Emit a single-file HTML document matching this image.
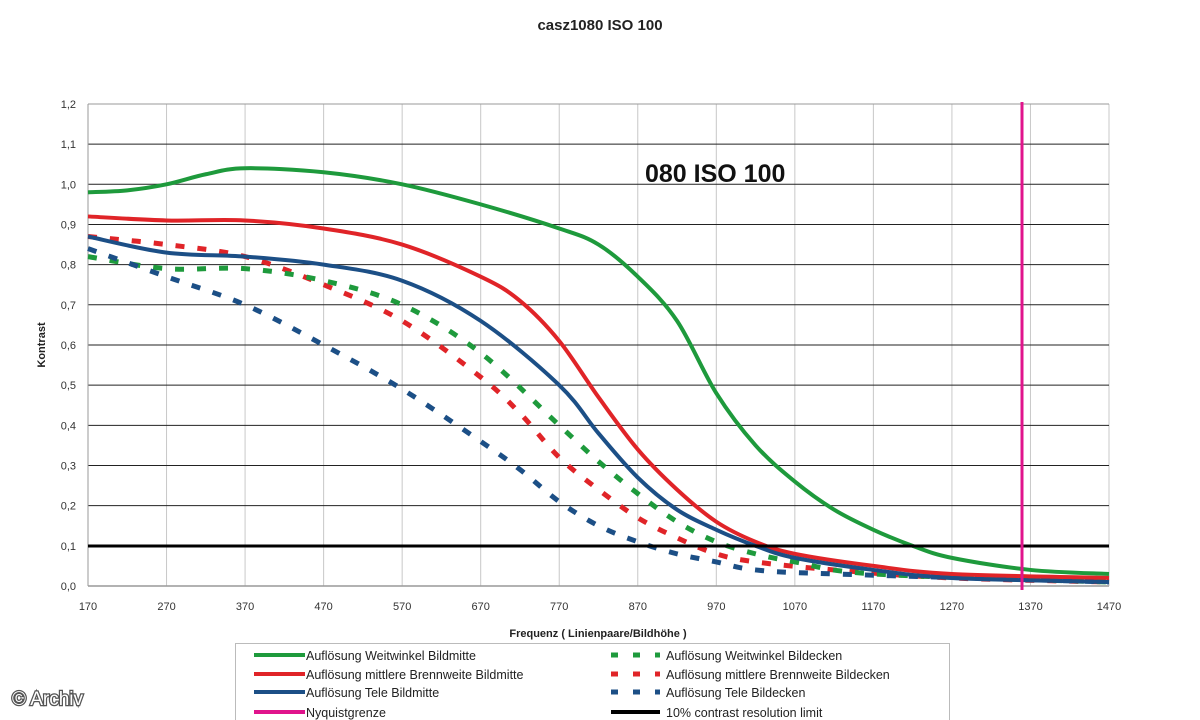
<!DOCTYPE html>
<html><head><meta charset="utf-8"><style>
html,body{margin:0;padding:0;background:#fff;width:1200px;height:720px;overflow:hidden}
svg{display:block;font-family:"Liberation Sans",Arial,sans-serif}
</style></head><body>
<svg id="s" width="1200" height="720" viewBox="0 0 1200 720">
<text x="600" y="30" text-anchor="middle" font-size="15" font-weight="bold" fill="#222">casz1080 ISO 100</text>
<g id="grid"></g>
<text x="645" y="182" font-size="25" font-weight="bold" fill="#111">080 ISO 100</text>
<g id="curves" fill="none" stroke-width="4" stroke-linejoin="round"></g>
<line x1="88" y1="546" x2="1109" y2="546" stroke="#000" stroke-width="3"/>
<line x1="1022" y1="102" x2="1022" y2="590" stroke="#e0148c" stroke-width="3"/>
<text x="598" y="637" text-anchor="middle" font-size="11" font-weight="bold" fill="#222">Frequenz ( Linienpaare/Bildhöhe )</text>
<text transform="translate(45,345) rotate(-90)" text-anchor="middle" font-size="11" font-weight="bold" fill="#222">Kontrast</text>
<rect x="235.5" y="643.5" width="714" height="90" fill="#fff" stroke="#bbb"/>
<g font-size="12.5" fill="#222">
<line x1="254" y1="655" x2="305" y2="655" stroke="#1e9a3c" stroke-width="4"/><text x="306" y="660">Auflösung Weitwinkel Bildmitte</text>
<line x1="254" y1="674" x2="305" y2="674" stroke="#e02428" stroke-width="4"/><text x="306" y="679">Auflösung mittlere Brennweite Bildmitte</text>
<line x1="254" y1="692" x2="305" y2="692" stroke="#1c4f86" stroke-width="4"/><text x="306" y="697">Auflösung Tele Bildmitte</text>
<line x1="254" y1="712" x2="305" y2="712" stroke="#e0148c" stroke-width="4"/><text x="306" y="717">Nyquistgrenze</text>
<line x1="611" y1="655" x2="660" y2="655" stroke="#1e9a3c" stroke-width="5" stroke-dasharray="7,15"/><text x="666" y="660">Auflösung Weitwinkel Bildecken</text>
<line x1="611" y1="674" x2="660" y2="674" stroke="#e02428" stroke-width="5" stroke-dasharray="7,15"/><text x="666" y="679">Auflösung mittlere Brennweite Bildecken</text>
<line x1="611" y1="692" x2="660" y2="692" stroke="#1c4f86" stroke-width="5" stroke-dasharray="7,15"/><text x="666" y="697">Auflösung Tele Bildecken</text>
<line x1="611" y1="712" x2="660" y2="712" stroke="#000" stroke-width="4"/><text x="666" y="717">10% contrast resolution limit</text>
</g>
<text x="12" y="705" font-size="19" fill="#fff" stroke="#555" stroke-width="2.5" paint-order="stroke">© Archiv</text>
</svg>
<script>
var NS="http://www.w3.org/2000/svg";
function X(f){return 88+(f-170)*1021/1300;}
function Y(v){return 586-v*401.7;}
function el(p,n,a){var e=document.createElementNS(NS,n);for(var k in a)e.setAttribute(k,a[k]);p.appendChild(e);return e;}
var g=document.getElementById('grid');
for(var f=170;f<=1470;f+=100){el(g,'line',{x1:X(f),y1:104,x2:X(f),y2:586,stroke:'#c8c8c8','stroke-width':1});
 var t=el(g,'text',{x:X(f),y:610,'text-anchor':'middle','font-size':11,fill:'#333'});t.textContent=f;}
for(var i=0;i<=12;i++){var y=Y(i/10);
 el(g,'line',{x1:88,y1:y,x2:1109,y2:y,stroke:(i==0||i==12)?'#999':'#222','stroke-width':i==0?1.5:1});
 var t=el(g,'text',{x:76,y:y+4,'text-anchor':'end','font-size':11,fill:'#333'});t.textContent=(i/10).toFixed(1).replace('.',',');}
el(g,'line',{x1:88,y1:104,x2:88,y2:586,stroke:'#999','stroke-width':1});
var data=[
['#e02428',0,[[170,.87],[270,.85],[370,.82],[470,.75],[570,.66],[670,.52],[720,.43],[770,.32],[820,.24],[870,.17],[920,.12],[970,.08],[1020,.06],[1120,.04],[1270,.02],[1470,.01]]],
['#1e9a3c',0,[[170,.82],[270,.79],[370,.79],[470,.76],[570,.70],[670,.58],[770,.40],[820,.31],[870,.23],[920,.16],[970,.11],[1020,.08],[1070,.06],[1170,.03],[1470,.01]]],
['#1c4f86',0,[[170,.84],[270,.77],[370,.70],[470,.60],[570,.49],[670,.36],[720,.29],[770,.21],[820,.15],[870,.11],[920,.08],[970,.06],[1020,.04],[1120,.03],[1470,.01]]],
['#1e9a3c',1,[[170,.98],[220,.985],[270,1.0],[320,1.025],[370,1.04],[470,1.03],[570,1.0],[670,.95],[770,.89],[820,.85],[870,.77],[920,.66],[970,.48],[1020,.35],[1070,.26],[1120,.19],[1170,.14],[1220,.1],[1270,.07],[1370,.04],[1470,.03]]],
['#e02428',1,[[170,.92],[270,.91],[370,.91],[470,.89],[570,.85],[670,.77],[720,.71],[770,.61],[820,.47],[870,.34],[920,.24],[970,.16],[1020,.11],[1070,.08],[1170,.05],[1270,.03],[1470,.02]]],
['#1c4f86',1,[[170,.87],[270,.83],[370,.82],[470,.80],[570,.76],[670,.66],[770,.50],[820,.38],[870,.27],[920,.19],[970,.14],[1020,.1],[1070,.07],[1170,.04],[1270,.02],[1470,.01]]]
];
var c=document.getElementById('curves');
data.forEach(function(s){var p=s[2].map(function(q){return [X(q[0]),Y(q[1])];});
 var d='M'+p[0][0]+','+p[0][1];
 for(var i=0;i<p.length-1;i++){var p0=p[i-1]||p[i],p1=p[i],p2=p[i+1],p3=p[i+2]||p2;
  d+='C'+(p1[0]+(p2[0]-p0[0])/6)+','+(p1[1]+(p2[1]-p0[1])/6)+' '+(p2[0]-(p3[0]-p1[0])/6)+','+(p2[1]-(p3[1]-p1[1])/6)+' '+p2[0]+','+p2[1];}
 var a={d:d,stroke:s[0]};if(!s[1]){a['stroke-dasharray']='9,13';a['stroke-width']=5;}
 el(c,'path',a);});
</script>
</body></html>
